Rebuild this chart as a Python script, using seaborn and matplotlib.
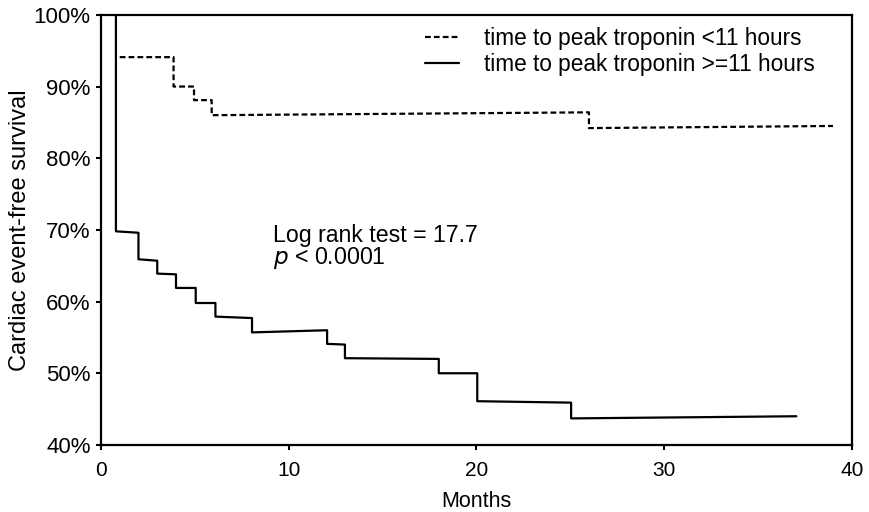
import matplotlib
matplotlib.use("Agg")
import matplotlib.pyplot as plt
import seaborn as sns
import pandas as pd

# Kaplan-Meier step vertices (months, survival %)
early_label = "time to peak troponin <11 hours"
early_months = [1.0, 3.87, 3.87, 4.96, 4.96, 5.9, 5.9, 26.0, 26.0, 39.0]
early_surv = [94.1, 94.1, 90.0, 90.0, 88.1, 88.1, 86.0, 86.4, 84.2, 84.5]

late_label = "time to peak troponin >=11 hours"
late_months = [0.8, 0.8, 2.0, 2.0, 3.0, 3.0, 4.0, 4.0, 5.05, 5.05, 6.1, 6.1,
               8.05, 8.05, 12.05, 12.05, 13.0, 13.0, 18.0, 18.0, 20.05, 20.05,
               25.05, 25.05, 37.05]
late_surv = [100.0, 69.8, 69.6, 65.9, 65.7, 63.9, 63.8, 61.9, 61.9, 59.8, 59.8, 57.9,
             57.7, 55.7, 56.0, 54.1, 54.0, 52.1, 52.0, 50.0, 50.0, 46.1,
             45.9, 43.7, 44.0]

x_ticks = [0, 10, 20, 30, 40]
y_ticks = [40, 50, 60, 70, 80, 90, 100]

sns.set_style("ticks")
plt.rcParams["font.family"] = ["Liberation Sans", "DejaVu Sans"]
plt.rcParams.update({"text.color": "black", "axes.labelcolor": "black",
                     "xtick.color": "black", "ytick.color": "black"})

fig = plt.figure(figsize=(8.7, 5.12), dpi=100)
ax = fig.add_axes([0.116, 0.131, 0.863, 0.840])

early_df = pd.DataFrame({"Months": early_months, "Survival": early_surv, "group": early_label})
late_df = pd.DataFrame({"Months": late_months, "Survival": late_surv, "group": late_label})

sns.lineplot(data=early_df, x="Months", y="Survival", sort=False, estimator=None,
             color="black", lw=1.6, ax=ax, label=early_label)
ax.lines[-1].set_dashes((2.6, 1.4))
sns.lineplot(data=late_df, x="Months", y="Survival", sort=False, estimator=None,
             color="black", lw=1.6, ax=ax, label=late_label)

ax.set_xlim(0, 40)
ax.set_ylim(40, 100)
ax.set_xticks(x_ticks)
ax.set_yticks(y_ticks)
ax.set_yticklabels([f"{v}%" for v in y_ticks])
ax.tick_params(axis="both", direction="out", length=3.5, width=1.5, colors="black")
ax.tick_params(axis="y", labelsize=16, pad=4)
ax.tick_params(axis="x", labelsize=15, pad=8)
for side in ["left", "right", "top", "bottom"]:
    ax.spines[side].set_visible(True)
    ax.spines[side].set_linewidth(1.6)
    ax.spines[side].set_color("black")

ax.set_xlabel("Months", fontsize=15.5, labelpad=8)
ax.set_ylabel("Cardiac event-free survival", fontsize=17, labelpad=2)

leg = ax.legend(loc="upper left", bbox_to_anchor=(0.432, 0.972), frameon=False,
                fontsize=16.3, handlelength=1.5, handletextpad=1.1, labelspacing=0.13,
                borderpad=0, borderaxespad=0)
for h in leg.get_lines():
    h.set_linewidth(1.6)

ax.text(0.229, 0.4728, "Log rank test = 17.7", transform=ax.transAxes,
        fontsize=16.7, ha="left", va="baseline")
ax.text(0.229, 0.4209, r"$\it{p}$ < 0.0001", transform=ax.transAxes,
        fontsize=16.7, ha="left", va="baseline")

fig.savefig("out.png", dpi=100)
